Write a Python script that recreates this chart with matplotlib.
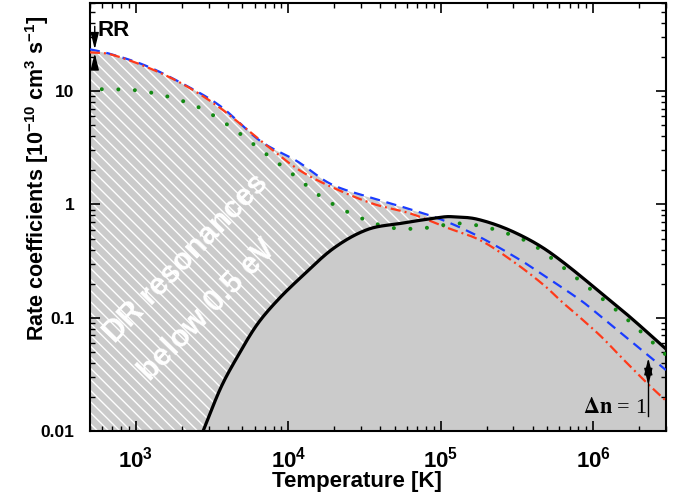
import numpy as np
import matplotlib
matplotlib.use("Agg")
import matplotlib.pyplot as plt
from matplotlib.ticker import LogLocator, NullFormatter

plt.rcParams["font.family"] = ["Liberation Sans", "DejaVu Sans"]
plt.rcParams["font.weight"] = "bold"
plt.rcParams["mathtext.fontset"] = "custom"
plt.rcParams["mathtext.rm"] = "Liberation Sans:bold"
plt.rcParams["mathtext.bf"] = "Liberation Sans:bold"
plt.rcParams["mathtext.it"] = "Liberation Sans:bold:italic"
plt.rcParams["hatch.linewidth"] = 1.0

# Rate coefficients in 1e-10 cm^3 s^-1 vs temperature (K)
T_blue = [498, 655, 1146, 2010, 3570, 6550, 11460, 18900, 34600, 60700, 1.05e5,
          1.83e5, 3.36e5, 4.55e5, 8.3e5, 1.08e6, 1.46e6, 1.86e6, 2.6e6, 3.0e6]
k_blue = [23.4, 21.6, 16.9, 11.7, 7.4, 3.63, 2.4, 1.52, 1.15, 0.92, 0.72,
          0.51, 0.32, 0.245, 0.142, 0.107, 0.0765, 0.0585, 0.0405, 0.0345]

T_red = [498, 675, 1180, 2040, 3570, 7280, 12000, 19800, 36200, 63500, 1.11e5,
         1.83e5, 3.02e5, 4.77e5, 6.15e5, 7.96e5, 1.13e6, 1.6e6, 2.3e6, 3.0e6]
k_red = [22.0, 21.2, 16.3, 11.5, 7.1, 3.28, 1.98, 1.40, 1.01, 0.83, 0.62,
         0.48, 0.31, 0.193, 0.140, 0.104, 0.068, 0.042, 0.0258, 0.0185]

T_green = [597, 985, 1600, 2640, 4280, 6850, 11400, 14300, 18300, 29800, 48300,
           79000, 1.3e5, 2.07e5, 3.47e5, 4.37e5, 8.0e5, 1.46e6, 1.86e6, 2.41e6, 3.0e6]
k_green = [10.4, 10.2, 9.0, 7.1, 4.73, 2.91, 1.73, 1.34, 1.06, 0.76, 0.62,
           0.62, 0.68, 0.62, 0.49, 0.41, 0.217, 0.113, 0.085, 0.062, 0.047]

T_black = [2760, 3600, 4610, 6200, 8470, 12000, 19800, 33000, 54600,
           1.0e5, 1.16e5, 1.74e5, 3.02e5, 5.3e5, 1.37e6, 1.86e6, 3.0e6]
k_black = [0.01, 0.024, 0.0447, 0.086, 0.142, 0.225, 0.41, 0.60, 0.68,
           0.77, 0.78, 0.74, 0.57, 0.37, 0.133, 0.094, 0.053]

x_ticks = [1e3, 1e4, 1e5, 1e6]
x_ticklabels = [r"$\mathbf{10^{3}}$", r"$\mathbf{10^{4}}$", r"$\mathbf{10^{5}}$", r"$\mathbf{10^{6}}$"]
y_ticks = [0.01, 0.1, 1, 10]
y_ticklabels = ["0.01", "0.1", "1", "10"]


def smooth(T, k, n=500):
    # cubic Hermite through the read points, in log-log space
    x = np.log10(T)
    y = np.log10(k)
    d = np.diff(y) / np.diff(x)
    m = np.empty_like(y)
    m[0], m[-1] = d[0], d[-1]
    m[1:-1] = (y[2:] - y[:-2]) / (x[2:] - x[:-2])
    xs = np.linspace(x[0], x[-1], n)
    i = np.clip(np.searchsorted(x, xs) - 1, 0, len(x) - 2)
    h = x[i + 1] - x[i]
    t = (xs - x[i]) / h
    ys = ((2 * t**3 - 3 * t**2 + 1) * y[i] + (t**3 - 2 * t**2 + t) * h * m[i]
          + (-2 * t**3 + 3 * t**2) * y[i + 1] + (t**3 - t**2) * h * m[i + 1])
    return 10 ** xs, 10 ** ys


fig = plt.figure(figsize=(6.83, 4.99), dpi=100)
ax = fig.add_axes([0.1318, 0.1363, 0.8432, 0.8577])
ax.set_xscale("log")
ax.set_yscale("log")
ax.set_xlim(500, 3e6)
ax.set_ylim(0.01, 60)

Tb, kb = smooth(T_blue, k_blue)
Tr, kr = smooth(T_red, k_red)
Tg, kg = smooth(T_green, k_green)
Tk, kk = smooth(T_black, k_black)

# gray area under the upper envelope, hatched where DR resonances below 0.5 eV dominate
lt = np.linspace(np.log10(500), np.log10(3e6), 900)
def logi(T, k, left=None):
    return np.interp(lt, np.log10(T), np.log10(k), left=left)
lb = logi(Tb, kb)
lr = logi(Tr, kr)
lg = logi(Tg, kg)
lk = logi(Tk, kk, left=-2.5)
upper = np.maximum.reduce([lb, lr, lg, lk])
grid = 10 ** lt
ax.fill_between(grid, 1e-3, 10 ** upper, color="#cbcbcb", linewidth=0, zorder=1)
lower = np.maximum(lk, -2.1)
ax.fill_between(grid, 10 ** lower, 10 ** upper, where=upper > lk + 0.01,
                facecolor="none", edgecolor="white", hatch="\\\\\\", linewidth=0, zorder=1.5)

ax.plot(Tb, kb, color="#1a3cff", lw=1.6, dashes=(4.6, 3.0), zorder=3)
ax.plot(Tr, kr, color="#ff3a1a", lw=1.6, dashes=(4.6, 1.8, 0.9, 1.8), zorder=3)
ax.plot(Tg, kg, color="#138a13", lw=2.9, linestyle=(0, (0.01, 4.1)),
        dash_capstyle="round", zorder=3)
ax.plot(Tk, kk, color="black", lw=2.3, zorder=4)

dr_style = dict(color="white", fontsize=22, fontweight="bold", rotation=46,
                ha="center", va="center", rotation_mode="anchor", zorder=5)
ax.text(2141, 0.33, "DR resonances", **dr_style)
ax.text(2966, 0.116, "below 0.5 eV", **dr_style)

# RR marker
arr = dict(arrowstyle="-|>,head_length=1.0,head_width=0.25", color="black",
           lw=1.0, shrinkA=0, shrinkB=0, mutation_scale=10)
ax.annotate("", xy=(537, 23.4), xytext=(537, 37.3), arrowprops=arr, zorder=6)
ax.annotate("", xy=(537, 21.6), xytext=(537, 16.6), arrowprops=arr, zorder=6)
ax.text(562, 30.5, "RR", fontsize=16, fontweight="bold", va="baseline", ha="left")

# Delta n = 1 marker
ax.plot([2.3e6, 2.3e6], [0.0136, 0.0325], color="black", lw=1.0, zorder=6)
ax.annotate("", xy=(2.3e6, 0.044), xytext=(2.3e6, 0.0325), arrowprops=arr, zorder=6)
ax.annotate("", xy=(2.3e6, 0.0254), xytext=(2.3e6, 0.0325), arrowprops=arr, zorder=6)
ax.text(2.25e6, 0.0144, r"$\Delta\mathbf{n}$ = 1", fontsize=16, fontweight="normal",
        family="Liberation Serif", math_fontfamily="stix", ha="right", va="baseline")

ax.set_xticks(x_ticks, x_ticklabels, fontsize=16)
ax.set_yticks(y_ticks, y_ticklabels, fontsize=12.5)
ax.xaxis.set_minor_locator(LogLocator(base=10, subs=np.arange(2, 10)))
ax.yaxis.set_minor_locator(LogLocator(base=10, subs=np.arange(2, 10)))
ax.xaxis.set_minor_formatter(NullFormatter())
ax.yaxis.set_minor_formatter(NullFormatter())
ax.tick_params(which="both", direction="in", top=True, right=True)
ax.tick_params(which="major", length=7, width=1.2)
ax.tick_params(which="minor", length=3.5, width=1.0)
ax.tick_params(axis="x", which="major", pad=11)
ax.tick_params(axis="y", which="major", pad=11)
for s in ax.spines.values():
    s.set_linewidth(1.5)

ax.set_xlabel("Temperature [K]", fontsize=16, fontweight="bold")
ax.xaxis.set_label_coords(0.463, -0.093)
ax.set_ylabel(r"Rate coefficients [10$^{-10}$ cm$^{3}$ s$^{-1}$]", fontsize=15.5,
              fontweight="bold")
ax.yaxis.set_label_coords(-0.068, 0.59)

fig.savefig("out.png", dpi=100)
